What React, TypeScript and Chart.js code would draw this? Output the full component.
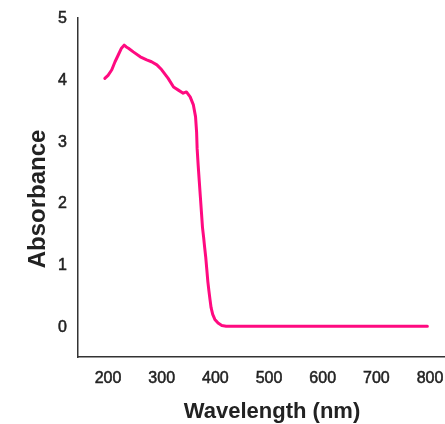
import React, { useEffect, useRef } from "react";
import { Chart, registerables } from "chart.js";

Chart.register(...registerables);

const wavelengths: number[] = [
  194, 200, 207, 213, 219, 225, 230, 234, 238, 247, 260, 272, 281, 291, 300, 312,
  322, 331, 340, 346, 353, 359, 363, 365, 366, 368, 370, 372, 374, 376, 378, 380,
  382, 384, 386, 388, 390, 392, 395, 399, 405, 412, 420, 450, 500, 550, 600, 650,
  700, 750, 795,
];
const absorbance: number[] = [
  4.02, 4.07, 4.16, 4.29, 4.4, 4.51, 4.56, 4.53, 4.51, 4.45, 4.37, 4.32, 4.29, 4.24, 4.16, 4.02,
  3.88, 3.83, 3.78, 3.8, 3.72, 3.59, 3.4, 3.15, 2.88, 2.6, 2.35, 2.1, 1.85, 1.6, 1.45, 1.28,
  1.12, 0.92, 0.72, 0.57, 0.43, 0.3, 0.19, 0.11, 0.05, 0.01, 0.0, 0.0, 0.0, 0.0, 0.0, 0.0,
  0.0, 0.0, 0.0,
];
const xTicks: number[] = [200, 300, 400, 500, 600, 700, 800];
const yTicks: number[] = [0, 1, 2, 3, 4, 5];
const xTitle = "Wavelength (nm)";
const yTitle = "Absorbance";

const FONT = "'Liberation Sans', Arial, sans-serif";

export default function App() {
  const ref = useRef<HTMLCanvasElement | null>(null);
  useEffect(() => {
    if (!ref.current) return;
    const textPlugin = {
      id: "texts",
      afterDraw(chart: any) {
        const ctx = chart.ctx;
        const ys = chart.scales.y;
        // y tick labels
        ctx.save();
        ctx.fillStyle = "#222";
        ctx.strokeStyle = "#222";
        ctx.lineWidth = 0.5;
        ctx.font = `16px ${FONT}`;
        ctx.textAlign = "right";
        ctx.textBaseline = "middle";
        yTicks.forEach((v) => {
          const py = ys.getPixelForValue(v) + 1;
          ctx.strokeText(String(v), 67, py);
          ctx.fillText(String(v), 67, py);
        });
        ctx.restore();
        // x title
        ctx.save();
        ctx.fillStyle = "#222";
        ctx.font = `bold 22px ${FONT}`;
        ctx.textAlign = "center";
        ctx.textBaseline = "alphabetic";
        ctx.fillText(xTitle, 272, 418);
        ctx.restore();
        // y title
        ctx.save();
        ctx.fillStyle = "#222";
        ctx.textAlign = "center";
        ctx.textBaseline = "alphabetic";
        ctx.translate(45, 199);
        ctx.rotate(-Math.PI / 2);
        ctx.font = `bold 24px ${FONT}`;
        ctx.fillText(yTitle, 0, 0);
        ctx.restore();
      },
    };
    const chart = new Chart(ref.current, {
      type: "line",
      data: {
        datasets: [
          {
            data: wavelengths.map((w, i) => ({ x: w, y: absorbance[i] })),
            borderColor: "#ff0a80",
            borderWidth: 3,
            pointRadius: 0,
            tension: 0,
            borderCapStyle: "round",
            borderJoinStyle: "round",
            fill: false,
          },
        ],
      },
      options: {
        animation: false,
        responsive: true,
        maintainAspectRatio: false,
        layout: { padding: { left: 0, top: 18, right: 1, bottom: 0 } },
        plugins: { legend: { display: false }, tooltip: { enabled: false } },
        scales: {
          x: {
            type: "linear",
            min: 144,
            max: 826,
            afterBuildTicks: (s: any) => {
              s.ticks = xTicks.map((v) => ({ value: v }));
            },
            afterFit: (s: any) => {
              s.height = 67;
              s.paddingLeft = 0;
              s.paddingRight = 0;
            },
            grid: { display: false, drawTicks: false },
            border: { display: true, color: "#333", width: 1.5 },
            ticks: {
              padding: 12,
              minRotation: 0,
              maxRotation: 0,
              color: "#222",
              textStrokeColor: "#222",
              textStrokeWidth: 0.5,
              font: { family: FONT, size: 16 },
            },
          },
          y: {
            type: "linear",
            min: -0.5,
            max: 5,
            afterBuildTicks: (s: any) => {
              s.ticks = yTicks.map((v) => ({ value: v }));
            },
            afterFit: (s: any) => {
              s.width = 78;
              s.paddingTop = 0;
              s.paddingBottom = 0;
            },
            grid: { display: false, drawTicks: false },
            border: { display: true, color: "#333", width: 1.5 },
            ticks: { display: false },
          },
        },
      },
      plugins: [textPlugin],
    } as any);
    return () => chart.destroy();
  }, []);
  return (
    <div style={{ position: "absolute", left: 0, top: 0, width: 445, height: 424, background: "#fff" }}>
      <canvas ref={ref} />
    </div>
  );
}
